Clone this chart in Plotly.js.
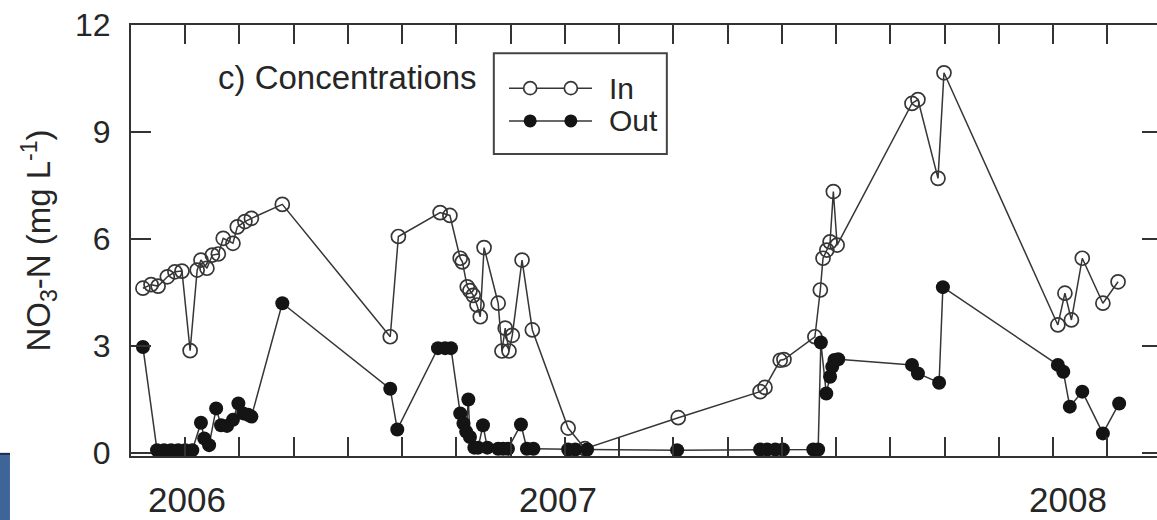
<!DOCTYPE html>
<html><head><meta charset="utf-8">
<script src="https://cdn.plot.ly/plotly-3.0.1.min.js"></script>
<style>html,body{margin:0;padding:0;overflow:hidden;background:#fff}#chart{width:1162px;height:520px}</style>
</head><body><div id="chart"></div>
<script>
// x in units of the tick interval (0 = left frame)
const inX = [0.22,0.37,0.50,0.67,0.81,0.94,1.09,1.22,1.29,1.40,1.50,1.61,1.70,1.88,1.96,2.10,2.22,2.79,4.78,4.93,5.70,5.88,6.07,6.11,6.20,6.25,6.31,6.38,6.44,6.51,6.77,6.84,6.90,6.97,7.03,7.21,7.40,8.06,8.37,10.09,11.60,11.69,11.97,12.04,12.61,12.71,12.76,12.83,12.89,12.95,13.02,14.40,14.51,14.88,14.99,17.09,17.22,17.34,17.54,17.92,18.20];
const inY = [4.62,4.72,4.68,4.94,5.08,5.10,2.87,5.13,5.41,5.18,5.55,5.58,6.02,5.88,6.34,6.49,6.58,6.97,3.26,6.07,6.74,6.66,5.46,5.36,4.66,4.55,4.42,4.15,3.82,5.76,4.20,2.86,3.50,2.86,3.30,5.41,3.45,0.70,0.12,0.99,1.72,1.84,2.60,2.62,3.26,4.57,5.46,5.69,5.92,7.33,5.83,9.80,9.91,7.70,10.66,3.59,4.48,3.73,5.46,4.20,4.80];
const outX = [0.22,0.48,0.61,0.74,0.87,1.00,1.13,1.29,1.35,1.44,1.57,1.66,1.77,1.88,1.98,2.07,2.16,2.22,2.79,4.78,4.91,5.66,5.79,5.90,6.07,6.13,6.18,6.22,6.25,6.33,6.40,6.49,6.57,6.77,6.86,6.95,7.19,7.30,7.42,8.06,8.19,8.41,10.07,11.60,11.73,11.88,12.02,12.58,12.67,12.72,12.82,12.89,12.93,12.97,13.04,14.40,14.51,14.90,14.97,17.09,17.19,17.31,17.54,17.92,18.22];
const outY = [2.97,0.08,0.08,0.08,0.08,0.08,0.08,0.85,0.41,0.22,1.25,0.78,0.76,0.93,1.39,1.11,1.07,1.02,4.20,1.80,0.66,2.94,2.94,2.94,1.11,0.83,0.60,1.50,0.45,0.15,0.15,0.78,0.15,0.12,0.12,0.12,0.80,0.12,0.12,0.10,0.10,0.10,0.08,0.10,0.10,0.10,0.10,0.10,0.10,3.10,1.67,2.14,2.42,2.61,2.63,2.47,2.23,1.97,4.65,2.47,2.28,1.30,1.72,0.55,1.39];
const seriesNames = ['In','Out'];
const yTickVals = [0,3,6,9,12];
const xTickVals = [1,2,3,4,5,6,7,8,9,10,11,12,13,14,15,16,17,18];
const yearLabels = ['2006','2007','2008'];
const yearPos = [1.04,7.87,17.28];
const panelLabel = 'c) Concentrations';

const ink = '#262626';
const FONT = 'Liberation Sans, Arial, Helvetica, sans-serif';

const traces = [
  {x: inX, y: inY, name: seriesNames[0], type: 'scatter', mode: 'lines+markers',
   line: {color: '#363636', width: 1.5},
   marker: {symbol: 'circle-open', size: 14, color: '#363636', line: {width: 1.7, color: '#363636'}}},
  {x: outX, y: outY, name: seriesNames[1], type: 'scatter', mode: 'lines+markers',
   line: {color: '#363636', width: 1.5},
   marker: {symbol: 'circle', size: 14, color: '#141414', line: {width: 0}}}
];

// custom legend (box, line samples with two markers each, labels)
const legY = [10.23, 9.31];
const shapes = [
  {type: 'rect', xref: 'x', yref: 'y', x0: 6.69, x1: 9.88, y0: 8.38, y1: 11.21,
   line: {color: '#444', width: 2}, fillcolor: 'rgba(0,0,0,0)', layer: 'above'},
  // blue artifact at lower-left edge
  {type: 'rect', xref: 'paper', yref: 'paper', x0: -0.135, x1: -0.1174, y0: -0.16, y1: 0.007,
   line: {width: 0}, fillcolor: '#3d6598', layer: 'above'},
  {type: 'line', xref: 'paper', yref: 'paper', x0: -0.135, x1: -0.1174, y0: 0.005, y1: 0.005,
   line: {width: 2, color: '#1d2c44'}, layer: 'above'}
];
const annotations = [
  {text: panelLabel, xref: 'x', yref: 'y', x: 1.56, y: 10.52, xanchor: 'left', yanchor: 'middle',
   showarrow: false, font: {family: FONT, size: 33, color: ink}}
];
legY.forEach((ly, i) => {
  shapes.push({type: 'line', xref: 'x', yref: 'y', x0: 6.97, x1: 8.50, y0: ly, y1: ly,
    line: {color: '#363636', width: 1.5}, layer: 'above'});
  [7.36, 8.11].forEach(cx => {
    shapes.push({type: 'circle', xref: 'x', yref: 'y', xsizemode: 'pixel', ysizemode: 'pixel',
      xanchor: cx, yanchor: ly, x0: -6.5, x1: 6.5, y0: -6.5, y1: 6.5,
      line: {color: i === 0 ? '#363636' : '#141414', width: i === 0 ? 1.7 : 0},
      fillcolor: i === 0 ? '#ffffff' : '#141414', layer: 'above'});
  });
  annotations.push({text: seriesNames[i], xref: 'x', yref: 'y', x: 8.77, y: ly,
    xanchor: 'left', yanchor: 'middle', showarrow: false, font: {family: FONT, size: 30, color: ink}});
});
yearLabels.forEach((t, i) => {
  annotations.push({text: t, xref: 'x', yref: 'paper', x: yearPos[i], y: -0.1,
    xanchor: 'center', yanchor: 'middle', showarrow: false, font: {family: FONT, size: 35, color: ink}});
});

const layout = {
  width: 1162, height: 520,
  margin: {l: 131, r: 0, t: 25, b: 64},
  paper_bgcolor: '#ffffff', plot_bgcolor: '#ffffff',
  showlegend: false,
  font: {family: FONT, color: ink},
  xaxis: {range: [0, 19.01], tickmode: 'array', tickvals: xTickVals, showticklabels: false,
    ticks: 'inside', ticklen: 19, tickwidth: 2, tickcolor: '#333',
    showline: true, linecolor: '#333', linewidth: 2, mirror: 'ticks',
    showgrid: false, zeroline: false},
  yaxis: {range: [-0.084, 12], tickmode: 'array', tickvals: yTickVals,
    ticks: 'inside', ticklen: 20, tickwidth: 2, tickcolor: '#333',
    showline: true, linecolor: '#333', linewidth: 2, mirror: 'ticks',
    showgrid: false, zeroline: false, ticklabelstandoff: 12,
    tickfont: {family: FONT, size: 32, color: ink},
    title: {text: 'NO<sub>3</sub>-N (mg L<sup>-1</sup>)', standoff: 14,
      font: {family: FONT, size: 33, color: ink}}},
  shapes: shapes,
  annotations: annotations
};

Plotly.newPlot('chart', traces, layout, {displayModeBar: false, staticPlot: true});
</script>
</body></html>
